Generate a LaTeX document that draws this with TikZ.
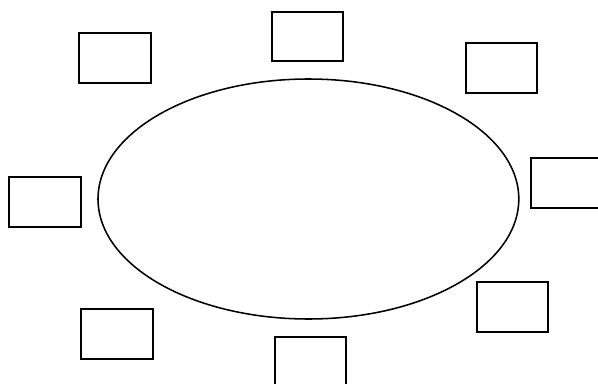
\documentclass[tikz,border=0pt]{standalone}
\usetikzlibrary{shapes.geometric,positioning}
\tikzset{
  chair/.style={draw=black, line width=1.3pt, minimum width=1.78cm, minimum height=1.23cm, inner sep=0pt},
  table/.style={draw=black, line width=1.1pt, ellipse, minimum width=10.52cm, minimum height=6.0cm, inner sep=0pt}
}
\begin{document}
\begin{tikzpicture}
  \clip (0,0) rectangle (14.95,9.575);
  \fill[white] (0,0) rectangle (14.95,9.575);

  %--- Table ---
  \node[table] (table) at (7.71,4.6) {};

  %--- Chairs ---
  \node[chair] (chairtl) at (2.875,8.125) {};
  \node[chair] (chairt)  at (7.69,8.66) {};
  \node[chair] (chairtr) at (12.54,7.875) {};
  \node[chair] (chairr)  at (14.16,5.0) {};
  \node[chair] (chairl)  at (1.125,4.525) {};
  \node[chair] (chairbr) at (12.81,1.9) {};
  \node[chair] (chairb)  at (7.76,0.54) {};
  \node[chair] (chairbl) at (2.925,1.225) {};
\end{tikzpicture}
\end{document}
